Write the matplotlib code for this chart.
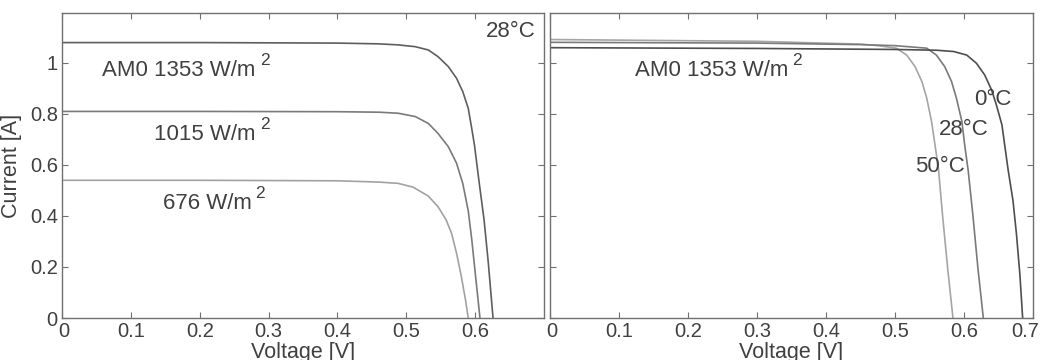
import matplotlib
matplotlib.use("Agg")
import matplotlib.pyplot as plt
from matplotlib.transforms import ScaledTranslation, IdentityTransform

plt.rcParams['font.family'] = ['Liberation Sans', 'DejaVu Sans']

# ---- Left panel: irradiance at 28 C ----
v_1353 = [0, 0.2, 0.4, 0.46, 0.488, 0.513, 0.532, 0.546, 0.561, 0.573, 0.582, 0.590, 0.595, 0.599, 0.606, 0.613, 0.619, 0.626]
i_1353 = [1.08, 1.08, 1.078, 1.075, 1.071, 1.064, 1.051, 1.025, 0.986, 0.940, 0.888, 0.822, 0.744, 0.678, 0.528, 0.384, 0.22, 0.0]
v_1015 = [0, 0.2, 0.4, 0.46, 0.488, 0.513, 0.532, 0.546, 0.561, 0.573, 0.582, 0.590, 0.595, 0.600, 0.607]
i_1015 = [0.81, 0.81, 0.809, 0.807, 0.803, 0.790, 0.763, 0.724, 0.672, 0.607, 0.528, 0.42, 0.31, 0.18, 0.0]
v_676 = [0, 0.2, 0.4, 0.46, 0.488, 0.510, 0.532, 0.546, 0.558, 0.566, 0.573, 0.580, 0.586, 0.590]
i_676 = [0.54, 0.54, 0.538, 0.533, 0.528, 0.513, 0.478, 0.437, 0.384, 0.330, 0.254, 0.162, 0.071, 0.0]

# ---- Right panel: temperature at AM0 ----
v_0C = [0, 0.3, 0.5, 0.56, 0.585, 0.604, 0.618, 0.630, 0.640, 0.647, 0.655, 0.659, 0.664, 0.671, 0.676, 0.681, 0.685]
i_0C = [1.06, 1.057, 1.053, 1.050, 1.045, 1.031, 0.999, 0.953, 0.894, 0.835, 0.757, 0.678, 0.58, 0.46, 0.33, 0.17, 0.0]
v_28C = [0, 0.3, 0.45, 0.50, 0.546, 0.560, 0.572, 0.582, 0.589, 0.597, 0.601, 0.606, 0.613, 0.620, 0.628]
i_28C = [1.081, 1.078, 1.072, 1.068, 1.058, 1.031, 0.986, 0.927, 0.862, 0.770, 0.678, 0.58, 0.40, 0.20, 0.0]
v_50C = [0, 0.3, 0.45, 0.475, 0.502, 0.517, 0.529, 0.539, 0.546, 0.553, 0.558, 0.563, 0.569, 0.5765, 0.584]
i_50C = [1.092, 1.085, 1.074, 1.068, 1.058, 1.031, 0.986, 0.927, 0.862, 0.770, 0.678, 0.585, 0.40, 0.19, 0.0]

left_xticks = [0, 0.1, 0.2, 0.3, 0.4, 0.5, 0.6]
left_xticklabels = ['0', '0.1', '0.2', '0.3', '0.4', '0.5', '0.6']
right_xticks = [0, 0.1, 0.2, 0.3, 0.4, 0.5, 0.6, 0.7]
right_xticklabels = ['0', '0.1', '0.2', '0.3', '0.4', '0.5', '0.6', '0.7']
yticks = [0, 0.2, 0.4, 0.6, 0.8, 1.0]
yticklabels = ['0', '0.2', '0.4', '0.6', '0.8', '1']

W, H = 1044, 360
fig = plt.figure(figsize=(W / 100, H / 100), dpi=100)
ax1 = fig.add_axes([62 / W, (H - 318) / H, (544 - 62) / W, (318 - 13) / H])
ax2 = fig.add_axes([550 / W, (H - 318) / H, (1033 - 550) / W, (318 - 13) / H])

txt = '#404040'
spine = '#707070'
fs = 14.5
fa = 16
fl = 15.5

for ax in (ax1, ax2):
    ax.set_xlim(0, 0.7)
    ax.set_ylim(0, 1.196)
    ax.set_yticks(yticks)
    for s in ax.spines.values():
        s.set_color(spine)
        s.set_linewidth(1.0)
    ax.tick_params(direction='in', length=4, width=0.8, color=spine,
                   top=True, right=True, labelsize=fs, labelcolor=txt, pad=3)

ax1.plot(v_1353, i_1353, color='#5e5e5e', lw=1.2)
ax1.plot(v_1015, i_1015, color='#7a7a7a', lw=1.2)
ax1.plot(v_676, i_676, color='#a2a2a2', lw=1.2)
ax1.set_xticks(left_xticks)
ax1.set_xticklabels(left_xticklabels)
ax1.set_yticklabels(yticklabels)
ax1.tick_params(axis='y', pad=3)
ax1.set_ylabel('Current [A]', fontsize=fl, color=txt)
ax1.yaxis.set_label_coords(-0.083, 0.5)
ax1.set_xlabel('Voltage [V]', fontsize=fl, color=txt)
ax1.xaxis.set_label_coords(0.5, -0.08, transform=ax1.transAxes)
ax1.xaxis.label.set_va('top')

ax2.plot(v_50C, i_50C, color='#a5a5a5', lw=1.2)
ax2.plot(v_28C, i_28C, color='#7a7a7a', lw=1.2)
ax2.plot(v_0C, i_0C, color='#4e4e4e', lw=1.2)
ax2.set_xticks(right_xticks)
ax2.set_xticklabels(right_xticklabels)
ax2.set_yticklabels([])
ax2.set_xlabel('Voltage [V]', fontsize=fl, color=txt)
ax2.xaxis.set_label_coords(0.5, -0.08, transform=ax2.transAxes)
ax2.xaxis.label.set_va('top')

# x tick labels: origin label nudged right, last right-panel label nudged left
for ax in (ax1, ax2):
    labs = ax.get_xticklabels()
    first = labs[0]
    first.set_transform(first.get_transform() + ScaledTranslation(2 / 100, 0, fig.dpi_scale_trans))
    if ax is ax2:
        last = labs[-1]
        last.set_transform(last.get_transform() + ScaledTranslation(-8 / 100, 0, fig.dpi_scale_trans))

unit_texts = [
    (ax1, 0.0588, 0.949, 'AM0 1353 W/m'),
    (ax1, 0.134, 0.698, '1015 W/m'),
    (ax1, 0.146, 0.427, '676 W/m'),
    (ax2, 0.123, 0.949, 'AM0 1353 W/m'),
]
made = []
for ax, x, y, s in unit_texts:
    t = ax.text(x, y, s, fontsize=fa, color=txt, va='baseline')
    made.append((ax, x, y, t))

ax1.text(0.688, 1.103, '28°C', fontsize=fa, color=txt, va='baseline', ha='right')
ax2.text(0.614, 0.835, '0°C', fontsize=fa, color=txt, va='baseline')
ax2.text(0.563, 0.718, '28°C', fontsize=fa, color=txt, va='baseline')
ax2.text(0.529, 0.574, '50°C', fontsize=fa, color=txt, va='baseline')

fig.canvas.draw()
r = fig.canvas.get_renderer()
for ax, x, y, t in made:
    bb = t.get_window_extent(r)
    ybase = ax.transData.transform((x, y))[1]
    sup = fig.text(bb.x1, ybase, '2', fontsize=fa * 0.78, color=txt, va='baseline', ha='left')
    sup.set_transform(IdentityTransform() + ScaledTranslation(4 / 100, 11 / 100, fig.dpi_scale_trans))

fig.savefig('out.png', dpi=100)
